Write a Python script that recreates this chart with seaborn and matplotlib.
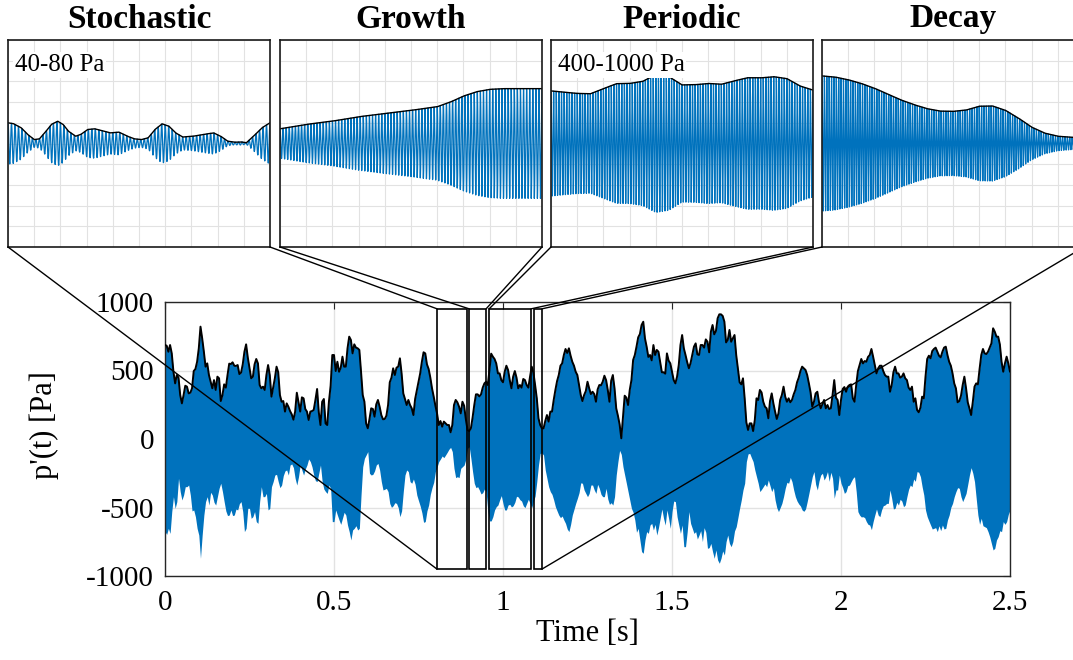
import numpy as np
import matplotlib
matplotlib.use("Agg")
import matplotlib.pyplot as plt
from matplotlib.patches import Rectangle, ConnectionPatch
import seaborn as sns

sns.set_style("white")
plt.rcParams["font.family"] = ["Liberation Serif", "DejaVu Serif"]
plt.rcParams["axes.unicode_minus"] = False
for key in ["text.color", "axes.labelcolor", "xtick.color", "ytick.color"]:
    plt.rcParams[key] = "black"

BLUE = "#0072BD"

# envelope of p'(t) [Pa], read every 5 ms from 0 to 2.5 s
dt = 0.005
upper_env = [
    686, 681, 637, 686, 625, 491, 406, 467, 448, 321,
    260, 321, 389, 382, 333, 338, 370, 496, 511, 564,
    662, 820, 735, 637, 528, 552, 467, 418, 370, 430,
    358, 455, 443, 277, 321, 399, 375, 467, 550, 547,
    560, 535, 533, 540, 474, 484, 545, 637, 691, 594,
    516, 443, 455, 545, 584, 552, 394, 370, 382, 358,
    467, 540, 467, 309, 375, 443, 528, 487, 321, 272,
    277, 200, 260, 236, 204, 180, 141, 200, 338, 268,
    200, 304, 297, 219, 200, 139, 200, 204, 212, 285,
    365, 195, 102, 272, 292, 114, 102, 272, 389, 613,
    613, 496, 564, 491, 521, 601, 528, 528, 662, 747,
    723, 625, 691, 667, 662, 650, 491, 321, 272, 114,
    78, 146, 224, 219, 163, 253, 285, 236, 175, 144,
    146, 170, 248, 414, 448, 516, 467, 521, 528, 589,
    479, 333, 292, 248, 285, 248, 224, 175, 292, 353,
    414, 479, 564, 633, 625, 545, 511, 448, 370, 309,
    243, 185, 102, 131, 90, 127, 114, 102, 102, 49,
    102, 248, 285, 268, 236, 187, 272, 243, 146, 66,
    58, 78, 156, 248, 326, 326, 311, 326, 375, 406,
    418, 394, 504, 623, 601, 584, 552, 479, 479, 430,
    414, 491, 535, 504, 430, 370, 455, 496, 448, 370,
    394, 375, 438, 430, 394, 375, 455, 528, 484, 394,
    297, 151, 102, 78, 78, 131, 175, 127, 200, 200,
    285, 358, 423, 467, 535, 552, 613, 657, 628, 662,
    608, 564, 535, 491, 467, 394, 321, 277, 321, 350,
    418, 370, 328, 345, 328, 272, 362, 394, 392, 418,
    462, 430, 358, 272, 425, 467, 370, 224, 170, 107,
    5, 156, 316, 302, 248, 358, 430, 577, 613, 674,
    742, 766, 832, 856, 735, 674, 599, 613, 574, 686,
    613, 650, 637, 564, 487, 487, 477, 625, 572, 552,
    491, 430, 406, 455, 540, 686, 759, 662, 613, 560,
    516, 555, 613, 674, 698, 618, 613, 686, 686, 667,
    727, 710, 633, 783, 832, 764, 788, 881, 910, 910,
    898, 856, 705, 723, 796, 710, 735, 759, 613, 516,
    414, 399, 443, 297, 122, 66, 114, 114, 58, 139,
    297, 285, 358, 340, 272, 236, 224, 151, 277, 333,
    260, 200, 146, 187, 285, 321, 382, 309, 272, 297,
    268, 285, 326, 358, 414, 448, 496, 528, 516, 504,
    467, 406, 340, 236, 272, 333, 345, 268, 224, 255,
    285, 224, 248, 219, 224, 321, 430, 302, 285, 175,
    285, 365, 379, 345, 382, 394, 399, 297, 272, 394,
    496, 540, 584, 552, 569, 564, 599, 613, 657, 601,
    540, 479, 516, 535, 535, 496, 467, 455, 455, 345,
    394, 487, 528, 479, 479, 448, 455, 479, 443, 430,
    375, 358, 382, 272, 297, 212, 195, 229, 309, 297,
    455, 584, 608, 589, 642, 657, 667, 637, 608, 596,
    637, 667, 674, 613, 564, 535, 479, 406, 370, 268,
    277, 316, 394, 455, 370, 268, 224, 175, 272, 382,
    406, 399, 511, 613, 657, 625, 620, 637, 667, 698,
    808, 783, 747, 747, 691, 564, 491, 552, 601, 552,
    491,
]
lower_env = [
    -676, -696, -652, -689, -530, -421, -506, -457, -287, -384,
    -445, -409, -348, -348, -336, -409, -525, -518, -567, -652,
    -701, -871, -701, -555, -457, -421, -482, -389, -409, -462,
    -482, -421, -360, -323, -384, -457, -525, -559, -555, -518,
    -559, -555, -511, -518, -472, -457, -530, -676, -652, -506,
    -506, -579, -567, -530, -603, -616, -457, -348, -421, -421,
    -397, -518, -506, -348, -311, -263, -258, -311, -355, -336,
    -267, -233, -226, -263, -190, -182, -209, -287, -336, -275,
    -190, -226, -263, -219, -190, -146, -165, -204, -263, -304,
    -311, -250, -190, -311, -365, -384, -397, -336, -360, -603,
    -603, -518, -555, -591, -623, -579, -535, -555, -628, -676,
    -737, -664, -652, -633, -664, -652, -409, -202, -141, -117,
    -92, -250, -263, -258, -233, -190, -178, -226, -311, -372,
    -367, -360, -384, -470, -499, -487, -465, -470, -501, -567,
    -525, -384, -263, -226, -238, -311, -323, -292, -331, -409,
    -450, -489, -538, -608, -603, -525, -482, -404, -355, -316,
    -238, -204, -165, -146, -124, -136, -117, -97, -75, -61,
    -92, -214, -282, -275, -282, -214, -202, -190, -148, -68,
    -56, -141, -238, -323, -355, -348, -372, -401, -392, -365,
    -384, -525, -598, -598, -567, -518, -494, -482, -445, -413,
    -470, -518, -518, -482, -477, -496, -487, -462, -418, -423,
    -443, -453, -487, -501, -470, -440, -470, -501, -457, -416,
    -311, -190, -105, -102, -117, -226, -287, -348, -384, -404,
    -445, -494, -525, -555, -574, -562, -591, -616, -657, -676,
    -623, -555, -513, -470, -433, -392, -320, -323, -372, -397,
    -421, -397, -336, -336, -372, -397, -331, -360, -404, -421,
    -421, -360, -438, -477, -465, -482, -421, -263, -165, -83,
    -112, -202, -263, -323, -384, -445, -506, -535, -591, -681,
    -652, -737, -822, -834, -737, -676, -689, -628, -616, -664,
    -623, -701, -647, -579, -511, -579, -628, -518, -579, -652,
    -530, -453, -457, -567, -628, -689, -628, -786, -786, -676,
    -530, -616, -652, -689, -676, -730, -701, -669, -749, -647,
    -681, -798, -793, -762, -822, -871, -810, -883, -907, -871,
    -817, -847, -749, -701, -762, -786, -749, -671, -640, -574,
    -506, -445, -372, -323, -165, -109, -105, -136, -165, -226,
    -275, -323, -384, -367, -348, -328, -348, -299, -341, -384,
    -355, -445, -501, -530, -501, -470, -421, -360, -316, -323,
    -280, -311, -372, -421, -453, -474, -489, -518, -528, -511,
    -457, -397, -336, -275, -238, -331, -372, -306, -263, -250,
    -299, -275, -238, -309, -243, -287, -433, -372, -372, -263,
    -323, -355, -397, -384, -341, -336, -311, -287, -275, -384,
    -530, -555, -569, -567, -574, -603, -623, -628, -662, -603,
    -555, -511, -555, -567, -518, -487, -482, -470, -470, -372,
    -433, -511, -506, -462, -482, -440, -453, -494, -482, -421,
    -367, -336, -348, -292, -309, -238, -243, -275, -348, -409,
    -518, -567, -598, -628, -657, -652, -647, -676, -633, -669,
    -628, -657, -652, -591, -555, -499, -470, -421, -384, -355,
    -360, -421, -457, -428, -397, -331, -263, -209, -250, -311,
    -433, -555, -623, -579, -633, -640, -647, -676, -713, -762,
    -810, -798, -737, -713, -669, -676, -603, -623, -603, -550,
    -518,
]
time = np.arange(len(upper_env)) * dt

# zoomed windows [s]
win_names = ["Stochastic", "Growth", "Periodic", "Decay"]
win_t0 = [0.805, 0.900, 0.959, 1.092]
win_t1 = [0.893, 0.950, 1.083, 1.115]
win_half = 950
inset_lim = [400, 1000, 1500, 1000]
inset_cycles = [75, 85, 100, 110]
inset_note = ["40-80 Pa", "", "400-1000 Pa", ""]

# envelope inside each window: position (fraction of window), amplitude [Pa]
stoch_f = [0.0, 0.02, 0.05, 0.075, 0.10, 0.12, 0.14, 0.166, 0.19, 0.21, 0.23,
           0.258, 0.278, 0.304, 0.33, 0.364, 0.39, 0.423, 0.456, 0.482, 0.509,
           0.535, 0.561, 0.588, 0.614, 0.64, 0.667, 0.706, 0.746, 0.785, 0.812,
           0.838, 0.864, 0.891, 0.91, 0.937, 0.97, 1.0]
stoch_a = [80, 77, 61, 35, 15, 18, 41, 74, 86, 74, 48,
           28, 35, 54, 57, 48, 41, 44, 28, 18, 15,
           22, 54, 76, 67, 41, 25, 28, 35, 41, 28,
           9, 5, 6, 3, 28, 61, 80]
growth_f = [0.0, 0.1, 0.2, 0.3, 0.4, 0.5, 0.6, 0.65, 0.7, 0.75, 0.8, 0.85, 0.9, 0.95, 1.0]
growth_a = [142, 184, 216, 258, 290, 320, 355, 400, 458, 500, 523, 530, 530, 530, 530]
period_f = [0.0, 0.05, 0.1, 0.15, 0.2, 0.25, 0.3, 0.35, 0.4, 0.45, 0.5,
            0.55, 0.6, 0.65, 0.7, 0.75, 0.8, 0.85, 0.9, 0.95, 1.0]
period_a = [762, 743, 726, 720, 795, 867, 870, 900, 999, 968, 849,
            852, 870, 858, 908, 953, 951, 968, 941, 834, 774]
decay_f = period_f
decay_a = [653, 642, 616, 580, 534, 479, 422, 376, 337, 313, 310,
           323, 360, 363, 321, 245, 158, 100, 70, 60, 55]
inset_env = [(stoch_f, stoch_a), (growth_f, growth_a),
             (period_f, period_a), (decay_f, decay_a)]

W, H = 1073, 660
fig = plt.figure(figsize=(W / 100, H / 100), dpi=100)

# main record
ax = fig.add_axes([165 / W, (H - 576) / H, 845 / W, 274 / H])
ax.fill_between(time, lower_env, upper_env, color=BLUE, lw=0, zorder=2)
sns.lineplot(x=time, y=upper_env, color="black", lw=1.4, ax=ax,
             estimator=None, zorder=3)
ax.set_xlim(0, 2.5)
ax.set_ylim(-1000, 1000)
ax.set_xticks([0, 0.5, 1, 1.5, 2, 2.5])
ax.set_xticklabels(["0", "0.5", "1", "1.5", "2", "2.5"])
ax.set_yticks([-1000, -500, 0, 500, 1000])
ax.grid(True, color="#e2e2e2", lw=1)
ax.set_axisbelow(True)
ax.tick_params(direction="in", length=5, top=True, right=True,
               labelsize=21, color="#262626")
ax.tick_params(axis="x", pad=10)
ax.tick_params(axis="y", pad=8)
for s in ax.spines.values():
    s.set_color("#262626")
    s.set_linewidth(1.0)
ax.set_xlabel("Time [s]", fontsize=22, labelpad=2)
ax.set_ylabel("p'(t) [Pa]", fontsize=22)
ax.yaxis.set_label_coords(-0.126, 0.55)

for t0, t1 in zip(win_t0, win_t1):
    ax.add_patch(Rectangle((t0, -win_half), t1 - t0, 2 * win_half,
                           fill=False, ec="black", lw=1.2, zorder=4))

# zoomed windows
inset_left = [8, 280, 551, 822]
for i, name in enumerate(win_names):
    axi = fig.add_axes([inset_left[i] / W, (H - 247) / H, 262 / W, 207 / H])
    t0, t1 = win_t0[i], win_t1[i]
    span = t1 - t0
    f, a = inset_env[i]
    tt = np.linspace(t0, t1, inset_cycles[i] * 24 + 1)
    env = np.interp(tt, t0 + np.array(f) * span, a)
    sig = env * np.cos(2 * np.pi * inset_cycles[i] * (tt - t0) / span)
    sns.lineplot(x=tt, y=sig, color=BLUE, lw=0.9, ax=axi, estimator=None)
    sns.lineplot(x=tt, y=env, color="black", lw=1.0, ax=axi, estimator=None)
    axi.set_xlim(t0, t1)
    axi.set_ylim(-inset_lim[i], inset_lim[i])
    axi.set_xticks(np.linspace(t0, t1, 11))
    axi.set_yticks(np.linspace(-inset_lim[i], inset_lim[i], 11))
    axi.tick_params(length=0, labelbottom=False, labelleft=False)
    axi.set_xlabel("")
    axi.set_ylabel("")
    axi.grid(True, color="#e2e2e2", lw=0.8)
    axi.set_axisbelow(True)
    for s in axi.spines.values():
        s.set_color("#1a1a1a")
        s.set_linewidth(1.2)
    axi.set_title(name, fontsize=24, fontweight="bold", pad=9)
    if inset_note[i]:
        axi.text(0.025, 0.93, inset_note[i], transform=axi.transAxes,
                 ha="left", va="top", fontsize=18, zorder=5,
                 bbox=dict(fc="white", ec="none", pad=1.5))

    if i == 0:
        pairs = [((0, 0), (t0, -win_half)), ((1, 0), (t0, win_half))]
    elif i == len(win_names) - 1:
        pairs = [((0, 0), (t1, win_half)), ((1, 0), (t1, -win_half))]
    else:
        pairs = [((0, 0), (t0, win_half)), ((1, 0), (t1, win_half))]
    for xa, xb in pairs:
        cp = ConnectionPatch(xyA=xa, coordsA=axi.transAxes, xyB=xb,
                             coordsB=ax.transData, color="black", lw=1.0)
        fig.add_artist(cp)

fig.savefig("out.png", dpi=100)
